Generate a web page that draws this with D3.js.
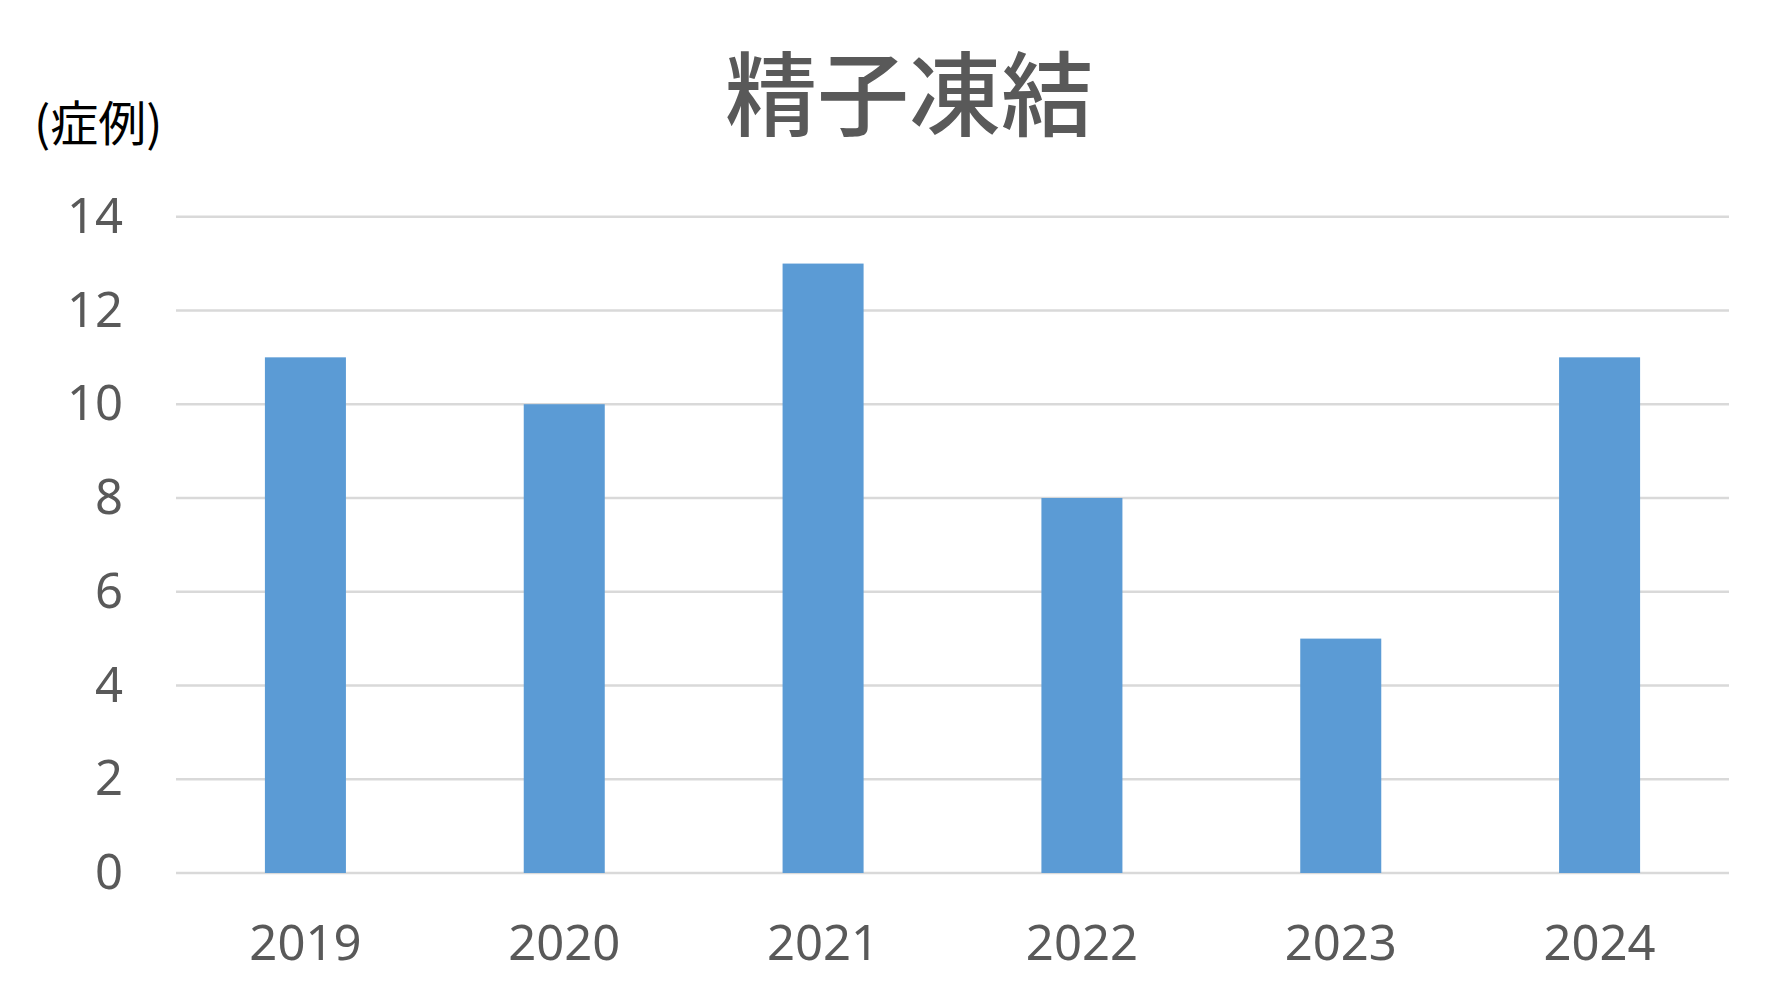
<!DOCTYPE html>
<html>
<head>
<meta charset="utf-8">
<script src="https://cdn.jsdelivr.net/npm/d3@7"></script>
<style>
  html, body { margin: 0; padding: 0; background: #ffffff; }
  svg { display: block; }
</style>
</head>
<body>
<svg id="chart" width="1780" height="1005"></svg>
<script>
const categories = ["2019", "2020", "2021", "2022", "2023", "2024"];
const values = [11, 10, 13, 8, 5, 11];
const yTicks = [0, 2, 4, 6, 8, 10, 12, 14];
const titleText = "精子凍結";
const yUnitLabel = "(症例)";

const svg = d3.select("#chart");
const W = 1780, H = 1005;
const plot = { left: 176, right: 1729, top: 216.7, bottom: 873 };

svg.append("rect").attr("width", W).attr("height", H).attr("fill", "#ffffff");

const x = d3.scaleBand()
  .domain(categories)
  .range([plot.left, plot.right])
  .paddingInner(0.687)
  .paddingOuter(0.687 / 2);

const y = d3.scaleLinear()
  .domain([0, 14])
  .range([plot.bottom, plot.top]);

// gridlines
svg.append("g")
  .selectAll("line")
  .data(yTicks)
  .join("line")
  .attr("x1", plot.left)
  .attr("x2", plot.right)
  .attr("y1", d => y(d))
  .attr("y2", d => y(d))
  .attr("stroke", "#D9D9D9")
  .attr("stroke-width", 2.6);

// bars
svg.append("g")
  .selectAll("rect")
  .data(values)
  .join("rect")
  .attr("x", (d, i) => x(categories[i]))
  .attr("width", x.bandwidth())
  .attr("y", d => y(d))
  .attr("height", d => y(0) - y(d))
  .attr("fill", "#5B9BD5");

// y axis (labels only)
const yAxis = d3.axisLeft(y).tickValues(yTicks).tickSize(0).tickPadding(0).tickFormat(d3.format("d"));
const yg = svg.append("g").attr("transform", `translate(123,0)`).call(yAxis);
yg.select(".domain").remove();
yg.selectAll("text")
  .attr("font-family", "'Noto Sans', sans-serif")
  .attr("font-size", 49)
  .attr("fill", "#595959")
  .attr("dy", "0.32em");

// x axis (labels only)
const xAxis = d3.axisBottom(x).tickSize(0).tickPadding(0);
const xg = svg.append("g").attr("transform", `translate(0,959.5)`).call(xAxis);
xg.select(".domain").remove();
xg.selectAll("text")
  .attr("font-family", "'Noto Sans', sans-serif")
  .attr("font-size", 49)
  .attr("fill", "#595959")
  .attr("dy", 0)
  .attr("y", 0);

// title
svg.append("text")
  .attr("x", 909)
  .attr("y", 128.5)
  .attr("text-anchor", "middle")
  .attr("font-family", "'Noto Sans CJK JP', sans-serif")
  .attr("font-size", 92)
  .attr("font-weight", 500)
  .attr("fill", "#595959")
  .text(titleText);

// y unit label
svg.append("text")
  .attr("x", 34)
  .attr("y", 141)
  .attr("text-anchor", "start")
  .attr("font-family", "'Noto Sans CJK JP', sans-serif")
  .attr("font-size", 48)
  .attr("fill", "#000000")
  .text(yUnitLabel);
</script>
</body>
</html>
